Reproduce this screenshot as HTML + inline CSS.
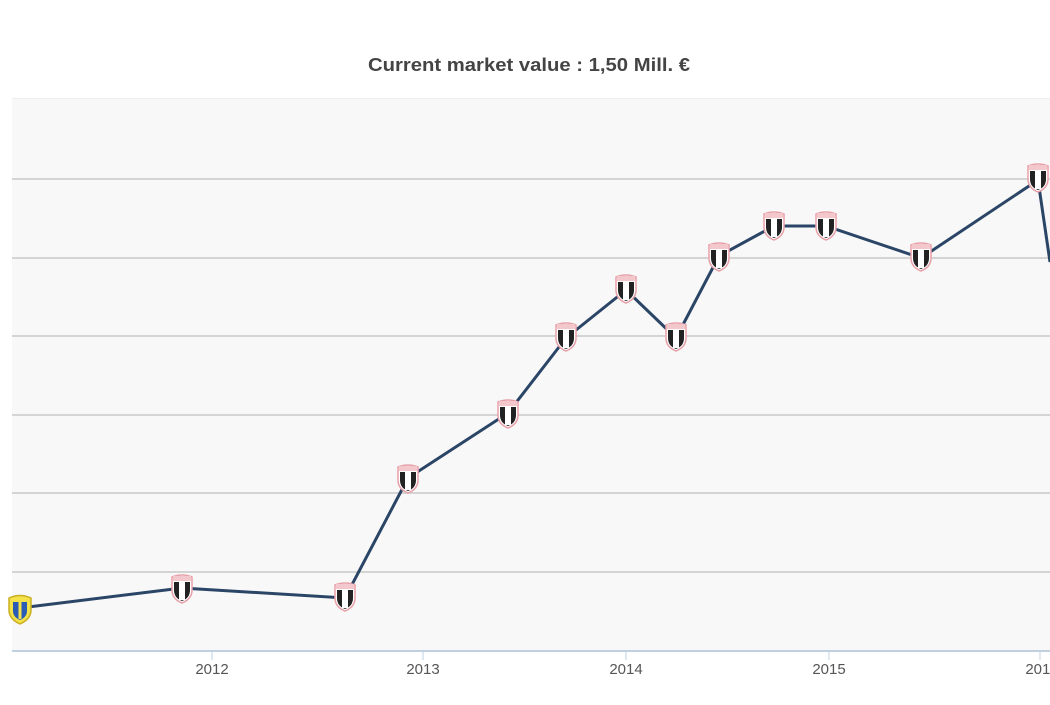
<!DOCTYPE html>
<html><head><style>
body{margin:0;width:1050px;height:700px;background:#fff;overflow:hidden;font-family:"Liberation Sans",sans-serif}
</style></head><body>
<svg width="1050" height="700" xmlns="http://www.w3.org/2000/svg">
<defs>
<g id="b">
<path d="M-10,-11 Q0,-15 10,-11 L10,2 Q10,11 0,15 Q-10,11 -10,2 Z" fill="#fff" stroke="#e8a0a8" stroke-width="1.5"/>
<path d="M-8,-6 L8,-6 L8,2 Q8,10 0,13 Q-8,10 -8,2 Z" fill="#222"/>
<rect x="-3" y="-6" width="6" height="18" fill="#fff"/>
<rect x="-9" y="-12" width="18" height="5" fill="#f3c8cc"/>
</g>
<g id="y">
<path d="M-11,-10 Q0,-15 11,-10 L11,2 Q11,11 0,16 Q-11,11 -11,2 Z" fill="#f5e14a" stroke="#c8b020" stroke-width="1.5"/>
<path d="M-7,-6 L7,-6 L7,3 Q7,9 0,12 Q-7,9 -7,3 Z" fill="#2a5bb5"/>
<rect x="-1.5" y="-6" width="3" height="17" fill="#f5e14a"/>
</g>
</defs>
<text x="529" y="71" text-anchor="middle" font-size="18" font-weight="bold" fill="#444" textLength="322" lengthAdjust="spacingAndGlyphs">Current market value : 1,50 Mill. €</text>
<rect x="12" y="98" width="1038" height="553" fill="#f8f8f8"/>
<line x1="12" y1="98.5" x2="1050" y2="98.5" stroke="#eee"/>
<g stroke="#d4d4d4" stroke-width="2">
<line x1="12" y1="179" x2="1050" y2="179"/><line x1="12" y1="258" x2="1050" y2="258"/>
<line x1="12" y1="336" x2="1050" y2="336"/><line x1="12" y1="415" x2="1050" y2="415"/>
<line x1="12" y1="493" x2="1050" y2="493"/><line x1="12" y1="572" x2="1050" y2="572"/>
</g>
<line x1="12" y1="651" x2="1050" y2="651" stroke="#c0d0e0" stroke-width="2"/>
<g stroke="#c0d0e0"><line x1="212" y1="651" x2="212" y2="660"/><line x1="423" y1="651" x2="423" y2="660"/><line x1="626" y1="651" x2="626" y2="660"/><line x1="829" y1="651" x2="829" y2="660"/><line x1="1040" y1="651" x2="1040" y2="660"/></g>
<g font-size="15" fill="#555" text-anchor="middle">
<text x="212" y="674">2012</text><text x="423" y="674">2013</text><text x="626" y="674">2014</text><text x="829" y="674">2015</text><text x="1042" y="674">2016</text></g>
<polyline fill="none" stroke="#2b4567" stroke-width="3" points="20,608 182,588 345,598 408,478 508,413 566,338 626,290 676,338 719,256 774,226 826,226 921,258 1038,180 1050,262"/>
<use href="#y" x="20" y="608"/>
<use href="#b" x="182" y="588"/><use href="#b" x="345" y="596"/><use href="#b" x="408" y="478"/>
<use href="#b" x="508" y="413"/><use href="#b" x="566" y="336"/><use href="#b" x="626" y="288"/>
<use href="#b" x="676" y="336"/><use href="#b" x="719" y="256"/><use href="#b" x="774" y="225"/>
<use href="#b" x="826" y="225"/><use href="#b" x="921" y="256"/><use href="#b" x="1038" y="177"/>
</svg>
</body></html>
